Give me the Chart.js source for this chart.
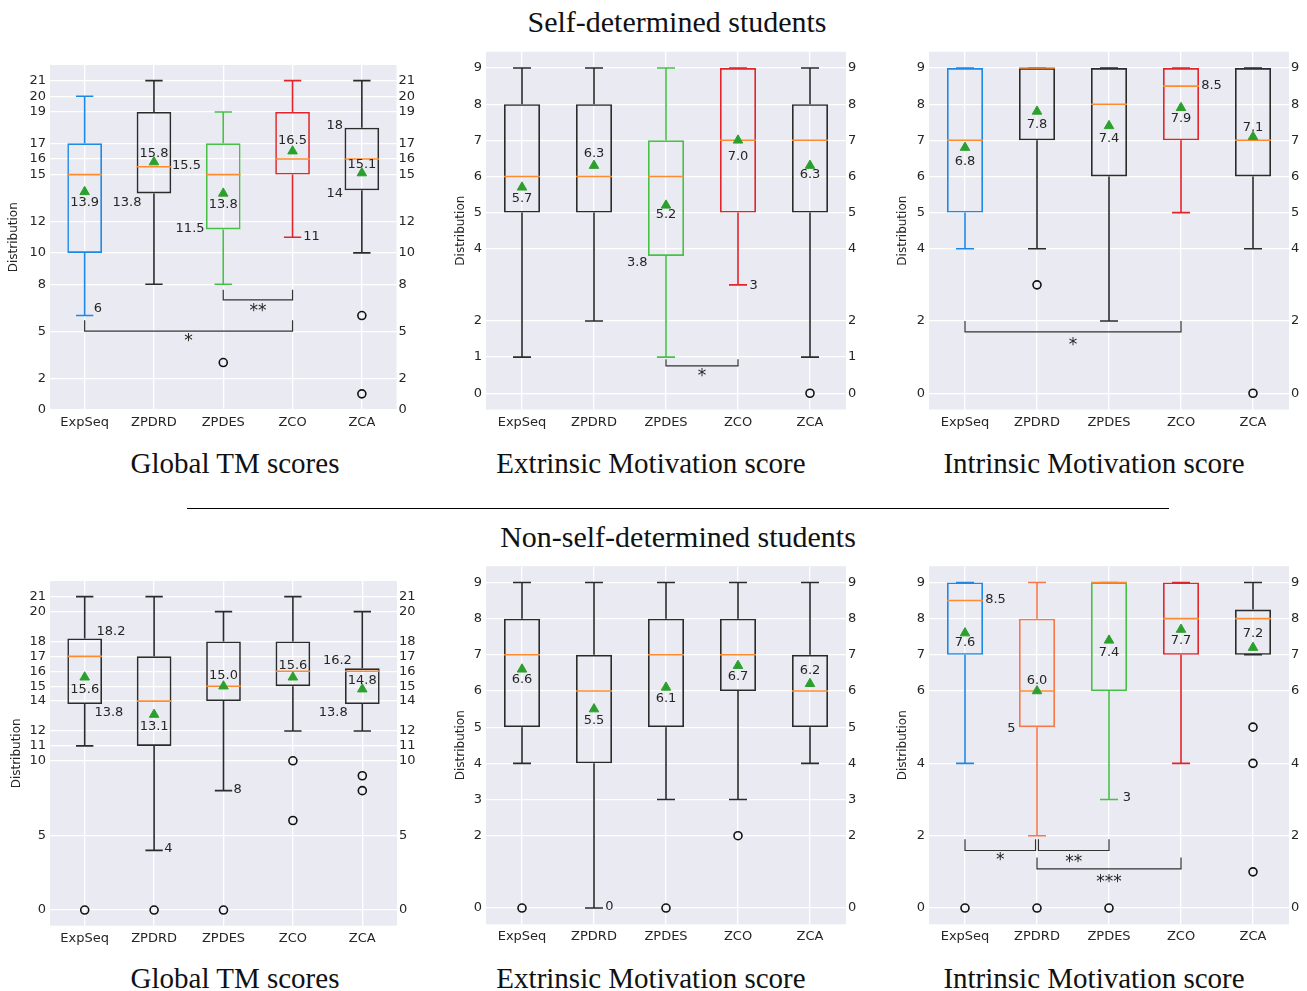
<!DOCTYPE html>
<html lang="en">
  <head>
    <meta charset="UTF-8" />
    <style>
      body {
        margin: 0;
        background-color: #fff;
        width: 1307px;
        height: 991px;
        position: relative;
        overflow: hidden;
      }
      canvas {
        position: absolute;
      }
      .heading,
      .caption {
        position: absolute;
        font-family: "Liberation Serif", serif;
        color: #111;
        white-space: nowrap;
        transform: translate(-50%, -50%);
      }
      .heading {
        font-size: 30px;
      }
      .caption {
        font-size: 29px;
      }
      .rule {
        position: absolute;
        left: 187px;
        top: 508px;
        width: 982px;
        border-top: 1px solid #000;
      }
    </style>
    <script src="https://cdn.jsdelivr.net/npm/chart.js"></script>
    <title>Motivation scores</title>
  </head>

  <body>
    <div class="heading" style="left: 677px; top: 22px">Self-determined students</div>
    <div class="caption" style="left: 235px; top: 463px">Global TM scores</div>
    <div class="caption" style="left: 651px; top: 463px">Extrinsic Motivation score</div>
    <div class="caption" style="left: 1094px; top: 463px">Intrinsic Motivation score</div>
    <div class="rule"></div>
    <div class="heading" style="left: 678px; top: 537px">Non-self-determined students</div>
    <div class="caption" style="left: 235px; top: 978px">Global TM scores</div>
    <div class="caption" style="left: 651px; top: 978px">Extrinsic Motivation score</div>
    <div class="caption" style="left: 1094px; top: 978px">Intrinsic Motivation score</div>

    <script>
      const categories = ["ExpSeq", "ZPDRD", "ZPDES", "ZCO", "ZCA"];

      // self-determined, global TM
      const sdGlobalLow = [6, 8, 8, 11, 10];
      const sdGlobalQ1 = [10, 13.8, 11.5, 15, 14];
      const sdGlobalMedian = [15, 15.5, 15, 16, 16];
      const sdGlobalQ3 = [17, 19, 17, 19, 18];
      const sdGlobalHigh = [20, 21, 19, 21, 21];
      const sdGlobalMean = [13.9, 15.8, 13.8, 16.5, 15.1];
      const sdGlobalOutliers = [[2, 3], [4, 6], [4, 1]];
      const sdGlobalTicks = [0, 2, 5, 8, 10, 12, 15, 16, 17, 19, 20, 21];
      const sdGlobalNotes = [
        [0, 13.2, "13.9", "center"],
        [0.13, 6.43, "6", "left"],
        [1, 16.32, "15.8", "center"],
        [1.26, 15.55, "15.5", "left"],
        [0.82, 13.2, "13.8", "right"],
        [2, 13.1, "13.8", "center"],
        [1.73, 11.56, "11.5", "right"],
        [3, 17.2, "16.5", "center"],
        [3.155, 11.06, "11", "left"],
        [3.73, 18.16, "18", "right"],
        [3.73, 13.8, "14", "right"],
        [4, 15.66, "15.1", "center"],
      ];
      const sdGlobalBrackets = [
        [2, 3, 7, 7.65, "**", 6.5],
        [0, 3, 5, 5.7, "*", 4.57],
      ];

      // self-determined, extrinsic
      const sdExtLow = [1, 2, 1, 3, 1];
      const sdExtQ1 = [5, 5, 3.8, 5, 5];
      const sdExtMedian = [6, 6, 6, 7, 7];
      const sdExtQ3 = [8, 8, 7, 9, 8];
      const sdExtHigh = [9, 9, 9, 9, 9];
      const sdExtMean = [5.7, 6.3, 5.2, 7.0, 6.3];
      const sdExtOutliers = [[4, 0]];
      const sdExtTicks = [0, 1, 2, 4, 5, 6, 7, 8, 9];
      const sdExtNotes = [
        [0, 5.4, "5.7", "center"],
        [1, 6.63, "6.3", "center"],
        [2, 4.95, "5.2", "center"],
        [1.745, 3.62, "3.8", "right"],
        [3, 6.56, "7.0", "center"],
        [3.16, 2.99, "3", "left"],
        [4, 6.05, "6.3", "center"],
      ];
      const sdExtBrackets = [[2, 3, 0.76, 0.94, "*", 0.58]];

      // self-determined, intrinsic
      const sdIntLow = [4, 4, 2, 5, 4];
      const sdIntQ1 = [5, 7, 6, 7, 6];
      const sdIntMedian = [7, 9, 8, 8.5, 7];
      const sdIntQ3 = [9, 9, 9, 9, 9];
      const sdIntHigh = [9, 9, 9, 9, 9];
      const sdIntMean = [6.8, 7.8, 7.4, 7.9, 7.1];
      const sdIntOutliers = [[1, 3], [4, 0]];
      const sdIntTicks = [0, 2, 4, 5, 6, 7, 8, 9];
      const sdIntNotes = [
        [0, 6.42, "6.8", "center"],
        [1, 7.44, "7.8", "center"],
        [2, 7.04, "7.4", "center"],
        [3, 7.6, "7.9", "center"],
        [3.28, 8.52, "8.5", "left"],
        [4, 7.36, "7.1", "center"],
      ];
      const sdIntBrackets = [[0, 3, 1.7, 2.0, "*", 1.44]];

      // non-self-determined, global TM
      const nsGlobalLow = [11, 4, 8, 12, 12];
      const nsGlobalQ1 = [13.8, 11, 14, 15, 13.8];
      const nsGlobalMedian = [17, 14, 15, 16, 16];
      const nsGlobalQ3 = [18.2, 17, 18, 18, 16.2];
      const nsGlobalHigh = [21, 21, 20, 21, 20];
      const nsGlobalMean = [15.6, 13.1, 15.0, 15.6, 14.8];
      const nsGlobalOutliers = [[0, 0], [1, 0], [2, 0], [3, 10], [3, 6], [4, 9], [4, 8]];
      const nsGlobalTicks = [0, 5, 10, 11, 12, 14, 15, 16, 17, 18, 20, 21];
      const nsGlobalNotes = [
        [0, 14.8, "15.6", "center"],
        [0.17, 18.65, "18.2", "left"],
        [0.14, 13.22, "13.8", "left"],
        [1, 12.29, "13.1", "center"],
        [1.145, 4.13, "4", "left"],
        [2, 15.7, "15.0", "center"],
        [2.145, 8.09, "8", "left"],
        [3, 16.35, "15.6", "center"],
        [4, 15.37, "14.8", "center"],
        [3.85, 16.69, "16.2", "right"],
        [3.79, 13.25, "13.8", "right"],
      ];
      const nsGlobalBrackets = [];

      // non-self-determined, extrinsic
      const nsExtLow = [4, 0, 3, 3, 4];
      const nsExtQ1 = [5, 4, 5, 6, 5];
      const nsExtMedian = [7, 6, 7, 7, 6];
      const nsExtQ3 = [8, 7, 8, 8, 7];
      const nsExtHigh = [9, 9, 9, 9, 9];
      const nsExtMean = [6.6, 5.5, 6.1, 6.7, 6.2];
      const nsExtOutliers = [[0, 0], [2, 0], [3, 2]];
      const nsExtTicks = [0, 2, 3, 4, 5, 6, 7, 8, 9];
      const nsExtNotes = [
        [0, 6.31, "6.6", "center"],
        [1, 5.17, "5.5", "center"],
        [1.157, 0.04, "0", "left"],
        [2, 5.8, "6.1", "center"],
        [3, 6.4, "6.7", "center"],
        [4, 6.55, "6.2", "center"],
      ];
      const nsExtBrackets = [];

      // non-self-determined, intrinsic
      const nsIntLow = [4, 2, 3, 4, 7];
      const nsIntQ1 = [7, 5, 6, 7, 7];
      const nsIntMedian = [8.5, 6, 9, 8, 8];
      const nsIntQ3 = [9, 8, 9, 9, 8.25];
      const nsIntHigh = [9, 9, 9, 9, 9];
      const nsIntMean = [7.6, 6.0, 7.4, 7.7, 7.2];
      const nsIntOutliers = [[0, 0], [1, 0], [2, 0], [4, 5], [4, 4], [4, 1]];
      const nsIntTicks = [0, 2, 4, 6, 7, 8, 9];
      const nsIntNotes = [
        [0, 7.34, "7.6", "center"],
        [0.28, 8.52, "8.5", "left"],
        [1, 6.3, "6.0", "center"],
        [0.7, 4.96, "5", "right"],
        [2, 7.06, "7.4", "center"],
        [2.19, 3.04, "3", "left"],
        [3, 7.39, "7.7", "center"],
        [4, 7.58, "7.2", "center"],
      ];
      const nsIntBrackets = [
        [0, 0.98, 1.59, 1.9, "*", 1.41],
        [1.02, 2, 1.59, 1.9, "**", 1.37],
        [1, 3, 1.08, 1.4, "***", 0.81],
      ];

      // colours
      const BLUE = "#1e88e5";
      const BLACK = "#2b2b2b";
      const GREEN = "#46c146";
      const RED = "#e2242b";
      const CORAL = "#f9784a";
      const MEDIAN = "#ff8c2e";
      const MEAN = "#2ca02c";
      const TEXT = "#262626";
      const BG = "#eaeaf2";

      // [titleX, areaLeft, areaRight, areaTop, areaBottom]
      const panels = [
        {
          layout: [14, 50, 396.5, 65, 409.5], range: [0, 22], ticks: sdGlobalTicks,
          low: sdGlobalLow, q1: sdGlobalQ1, median: sdGlobalMedian, q3: sdGlobalQ3, high: sdGlobalHigh,
          mean: sdGlobalMean, outliers: sdGlobalOutliers, notes: sdGlobalNotes, brackets: sdGlobalBrackets,
          colors: [BLUE, BLACK, GREEN, RED, BLACK],
        },
        {
          layout: [460.7, 486, 846, 51.5, 409.5], range: [-0.45, 9.45], ticks: sdExtTicks,
          low: sdExtLow, q1: sdExtQ1, median: sdExtMedian, q3: sdExtQ3, high: sdExtHigh,
          mean: sdExtMean, outliers: sdExtOutliers, notes: sdExtNotes, brackets: sdExtBrackets,
          colors: [BLACK, BLACK, GREEN, RED, BLACK],
        },
        {
          layout: [902.7, 929, 1289, 51.5, 409.5], range: [-0.45, 9.45], ticks: sdIntTicks,
          low: sdIntLow, q1: sdIntQ1, median: sdIntMedian, q3: sdIntQ3, high: sdIntHigh,
          mean: sdIntMean, outliers: sdIntOutliers, notes: sdIntNotes, brackets: sdIntBrackets,
          colors: [BLUE, BLACK, BLACK, RED, BLACK],
        },
        {
          layout: [17.3, 50, 397, 581, 925.7], range: [-1.05, 22.05], ticks: nsGlobalTicks,
          low: nsGlobalLow, q1: nsGlobalQ1, median: nsGlobalMedian, q3: nsGlobalQ3, high: nsGlobalHigh,
          mean: nsGlobalMean, outliers: nsGlobalOutliers, notes: nsGlobalNotes, brackets: nsGlobalBrackets,
          colors: [BLACK, BLACK, BLACK, BLACK, BLACK],
        },
        {
          layout: [460.7, 486, 846, 566.2, 924.3], range: [-0.45, 9.45], ticks: nsExtTicks,
          low: nsExtLow, q1: nsExtQ1, median: nsExtMedian, q3: nsExtQ3, high: nsExtHigh,
          mean: nsExtMean, outliers: nsExtOutliers, notes: nsExtNotes, brackets: nsExtBrackets,
          colors: [BLACK, BLACK, BLACK, BLACK, BLACK],
        },
        {
          layout: [903.3, 929, 1289, 566.2, 924.3], range: [-0.45, 9.45], ticks: nsIntTicks,
          low: nsIntLow, q1: nsIntQ1, median: nsIntMedian, q3: nsIntQ3, high: nsIntHigh,
          mean: nsIntMean, outliers: nsIntOutliers, notes: nsIntNotes, brackets: nsIntBrackets,
          colors: [BLUE, CORAL, GREEN, RED, BLACK],
        },
      ];

      // whiskers, caps, medians, value labels and significance brackets
      function boxParts(p) {
        return {
          id: "boxParts",
          beforeDraw(chart) {
            const a = chart.chartArea;
            const ctx = chart.ctx;
            ctx.save();
            ctx.fillStyle = BG;
            ctx.fillRect(a.left, a.top, a.right - a.left, a.bottom - a.top);
            ctx.restore();
          },
          afterDatasetDraw(chart, args) {
            if (args.index !== 0) return;
            const x = chart.scales.x;
            const y = chart.scales.y;
            const ctx = chart.ctx;
            const catW = x.getPixelForValue(1) - x.getPixelForValue(0);
            ctx.save();
            ctx.lineWidth = 1.6;
            categories.forEach((c, i) => {
              const cx = x.getPixelForValue(i);
              ctx.strokeStyle = p.colors[i];
              ctx.beginPath();
              ctx.moveTo(cx, y.getPixelForValue(p.q1[i]));
              ctx.lineTo(cx, y.getPixelForValue(p.low[i]));
              ctx.moveTo(cx, y.getPixelForValue(p.q3[i]));
              ctx.lineTo(cx, y.getPixelForValue(p.high[i]));
              [p.low[i], p.high[i]].forEach((v) => {
                ctx.moveTo(cx - catW * 0.125, y.getPixelForValue(v));
                ctx.lineTo(cx + catW * 0.125, y.getPixelForValue(v));
              });
              ctx.stroke();
              ctx.strokeStyle = MEDIAN;
              ctx.beginPath();
              ctx.moveTo(cx - catW * 0.25, y.getPixelForValue(p.median[i]));
              ctx.lineTo(cx + catW * 0.25, y.getPixelForValue(p.median[i]));
              ctx.stroke();
            });
            ctx.restore();
          },
          afterDatasetsDraw(chart) {
            const x = chart.scales.x;
            const y = chart.scales.y;
            const ctx = chart.ctx;
            ctx.save();
            ctx.fillStyle = TEXT;
            ctx.font = "13px 'DejaVu Sans'";
            ctx.textBaseline = "middle";
            p.notes.forEach(([nx, ny, text, align]) => {
              ctx.textAlign = align;
              ctx.fillText(text, x.getPixelForValue(nx), y.getPixelForValue(ny));
            });
            ctx.strokeStyle = "#333";
            ctx.lineWidth = 1.2;
            ctx.font = "17px 'DejaVu Sans'";
            ctx.textAlign = "center";
            p.brackets.forEach(([a, b, line, tip, text, ty]) => {
              const xa = x.getPixelForValue(a);
              const xb = x.getPixelForValue(b);
              ctx.beginPath();
              ctx.moveTo(xa, y.getPixelForValue(tip));
              ctx.lineTo(xa, y.getPixelForValue(line));
              ctx.lineTo(xb, y.getPixelForValue(line));
              ctx.lineTo(xb, y.getPixelForValue(tip));
              ctx.stroke();
              ctx.fillText(text, (xa + xb) / 2, y.getPixelForValue(ty) + 4);
            });
            ctx.restore();
          },
        };
      }

      function addPanel(p) {
        const [titleX, l, r, t, b] = p.layout;
        const left = Math.round(titleX - 14.2);
        const top = Math.round(t) - 12;
        const width = Math.round(r) + 26 - left;
        const height = Math.round(b) + 30 - top;
        const yW = l - left;
        const y2W = left + width - r;
        const xH = top + height - b;

        const canvas = document.createElement("canvas");
        canvas.width = width;
        canvas.height = height;
        canvas.style.left = left + "px";
        canvas.style.top = top + "px";
        document.body.appendChild(canvas);

        const tickFont = { family: "DejaVu Sans", size: 13 };
        const setTicks = (s) => {
          s.ticks = p.ticks.map((v) => ({ value: v }));
        };

        new Chart(canvas, {
          type: "bar",
          data: {
            labels: categories,
            datasets: [
              {
                type: "bar",
                data: p.q1.map((v, i) => [v, p.q3[i]]),
                backgroundColor: "rgba(0,0,0,0)",
                borderColor: p.colors,
                borderWidth: 1.6,
                borderSkipped: false,
                barPercentage: 0.5,
                categoryPercentage: 1,
                order: 3,
              },
              {
                type: "line",
                data: p.outliers.map((o) => ({ x: categories[o[0]], y: o[1] })),
                showLine: false,
                pointStyle: "circle",
                pointRadius: 4,
                pointBorderWidth: 1.6,
                pointBorderColor: "#111",
                pointBackgroundColor: "rgba(0,0,0,0)",
                order: 2,
              },
              {
                type: "line",
                data: p.mean,
                showLine: false,
                pointStyle: "triangle",
                pointRadius: 5.5,
                pointBorderWidth: 1,
                pointBackgroundColor: MEAN,
                pointBorderColor: MEAN,
                order: 1,
              },
            ],
          },
          options: {
            responsive: false,
            animation: false,
            devicePixelRatio: 1,
            layout: { padding: { top: t - top, left: 0, right: 0, bottom: 0 } },
            plugins: { legend: { display: false }, tooltip: { enabled: false } },
            scales: {
              x: {
                type: "category",
                offset: true,
                grid: { color: "#fff", lineWidth: 1.3, offset: false, drawTicks: false },
                border: { display: false },
                ticks: { color: TEXT, font: tickFont, padding: 5, maxRotation: 0, autoSkip: false },
                afterFit: (s) => {
                  s.height = xH;
                },
              },
              y: {
                type: "linear",
                position: "left",
                min: p.range[0],
                max: p.range[1],
                afterBuildTicks: setTicks,
                grid: { color: "#fff", lineWidth: 1.3, drawTicks: false },
                border: { display: false },
                ticks: { autoSkip: false, color: TEXT, font: tickFont, padding: 4 },
                title: {
                  display: true,
                  text: "Distribution",
                  color: TEXT,
                  font: { family: "DejaVu Sans", size: 12 },
                  padding: { top: 7, bottom: 0 },
                },
                afterFit: (s) => {
                  s.width = yW;
                },
              },
              y2: {
                type: "linear",
                position: "right",
                min: p.range[0],
                max: p.range[1],
                afterBuildTicks: setTicks,
                grid: { display: false, drawTicks: false },
                border: { display: false },
                ticks: { autoSkip: false, color: TEXT, font: tickFont, padding: 2 },
                afterFit: (s) => {
                  s.width = y2W;
                },
              },
            },
          },
          plugins: [boxParts(p)],
        });
      }

      panels.forEach(addPanel);
    </script>
  </body>
</html>
